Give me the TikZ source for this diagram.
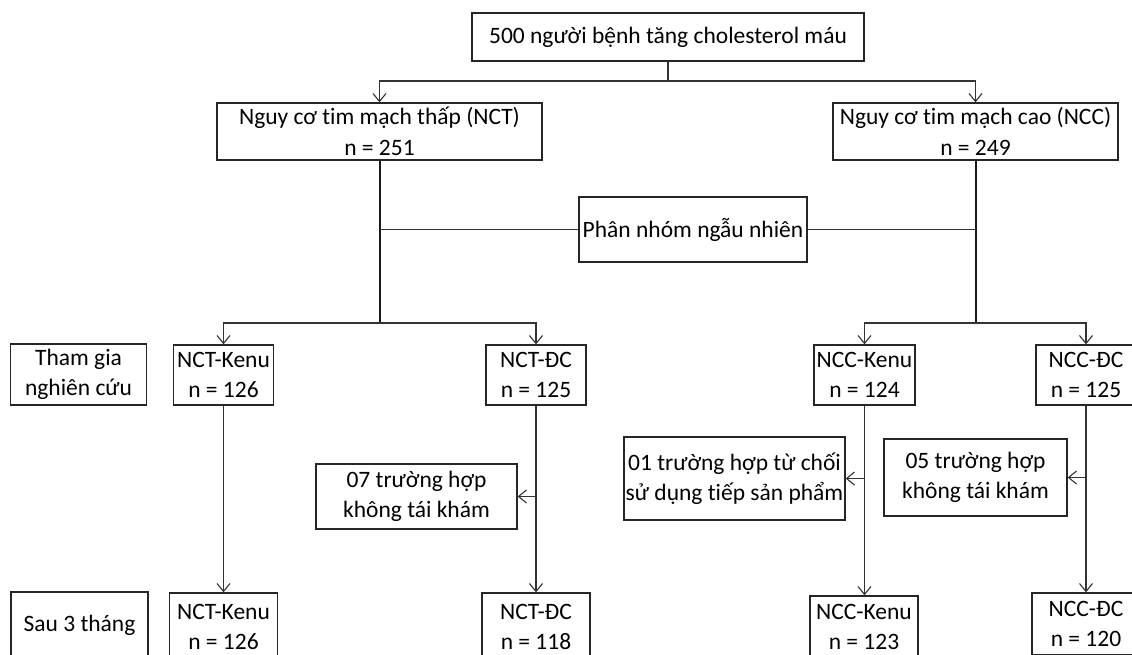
\documentclass[tikz,border=0pt]{standalone}
\usepackage{fontspec}
\setmainfont{Carlito}[Ligatures=NoCommon, Contextuals=NoAlternate, RawFeature=-clig]
\usetikzlibrary{arrows.meta}
\begin{document}
\begin{tikzpicture}[x=1pt,y=-1pt,
  box/.style={draw=black!85, line width=1.3pt, align=center, inner sep=0pt,
    font=\fontsize{23.5}{30.5}\selectfont, text=black},
  ln/.style={draw=black!80, line width=1.1pt},
  thk/.style={draw=black!90, line width=2pt},
  arr/.style={ln, -{Straight Barb[length=8pt,width=13pt,line width=1.1pt]}}]
\useasboundingbox (0,0) rectangle (1132,654);
\clip (0,0) rectangle (1132,654);
% nodes
\node[box, minimum width=392pt, minimum height=48pt] (top) at (668,37) {500 người bệnh tăng cholesterol máu};
\node[box, minimum width=325pt, minimum height=57pt] (nct) at (379.5,131.5) {Nguy cơ tim mạch thấp (NCT)\\n = 251};
\node[box, minimum width=285pt, minimum height=57pt] (ncc) at (975.5,131.5) {Nguy cơ tim mạch cao (NCC)\\n = 249};
\node[box, minimum width=228pt, minimum height=65pt] (phan) at (693,229.5) {Phân nhóm ngẫu nhiên};
\node[box, minimum width=136pt, minimum height=61pt] (tham) at (78.5,374.5) {Tham gia\\nghiên cứu};
\node[box, minimum width=100pt, minimum height=60pt] (nctk) at (223.5,375) {NCT-Kenu\\n = 126};
\node[box, minimum width=100pt, minimum height=60pt] (nctd) at (536,375) {NCT-ĐC\\n = 125};
\node[box, minimum width=101pt, minimum height=60pt] (ncck) at (864.5,375) {NCC-Kenu\\n = 124};
\node[box, minimum width=100pt, minimum height=60pt] (nccd) at (1086,375) {NCC-ĐC\\n = 125};
\node[box, minimum width=201pt, minimum height=65pt] (n07) at (416.5,496.5) {07 trường hợp\\không tái khám};
\node[box, minimum width=221pt, minimum height=83pt] (n01) at (734.5,478.5) {01 trường hợp từ chối\\sử dụng tiếp sản phẩm};
\node[box, minimum width=183pt, minimum height=77pt] (n05) at (975.5,477.5) {05 trường hợp\\không tái khám};
\node[box, minimum width=137pt, minimum height=66pt] (sau) at (79.5,625) {Sau 3 tháng};
\node[box, minimum width=108pt, minimum height=68pt] (nctk2) at (223.5,627) {NCT-Kenu\\n = 126};
\node[box, minimum width=108pt, minimum height=68pt] (nctd2) at (536,627) {NCT-ĐC\\n = 118};
\node[box, minimum width=108pt, minimum height=62pt] (ncck2) at (864,627) {NCC-Kenu\\n = 123};
\node[box, minimum width=108pt, minimum height=62pt] (nccd2) at (1086,624) {NCC-ĐC\\n = 120};
% connectors
\coordinate (j0) at (668,81);
\coordinate (jl) at (379.5,323);
\coordinate (jr) at (975.5,323);
\draw[ln] (top.south) -- (j0);
\draw[arr] (j0) -| (nct.north);
\draw[arr] (j0) -| (ncc.north);
\draw[thk] (nct.south) -- (jl);
\draw[thk] (ncc.south) -- (jr);
\draw[ln] (phan.west) -- (phan.west -| nct.south);
\draw[ln] (phan.east) -- (phan.east -| ncc.south);
\draw[arr] (jl) -| (nctk.north);
\draw[arr] (jl) -| (nctd.north);
\draw[arr] (jr) -| (ncck.north);
\draw[arr] (jr) -| (nccd.north);
\draw[arr] (nctk.south) -- (nctk2.north);
\draw[arr] (nctd.south) -- (nctd2.north);
\draw[arr] (nctd.south |- n07.east) -- (n07.east);
\draw[arr] (ncck.south) -- (ncck.south |- ncck2.north);
\draw[arr] (ncck.south |- n01.east) -- (n01.east);
\draw[arr] (nccd.south) -- (nccd2.north);
\draw[arr] (nccd.south |- n05.east) -- (n05.east);
\end{tikzpicture}
\end{document}
